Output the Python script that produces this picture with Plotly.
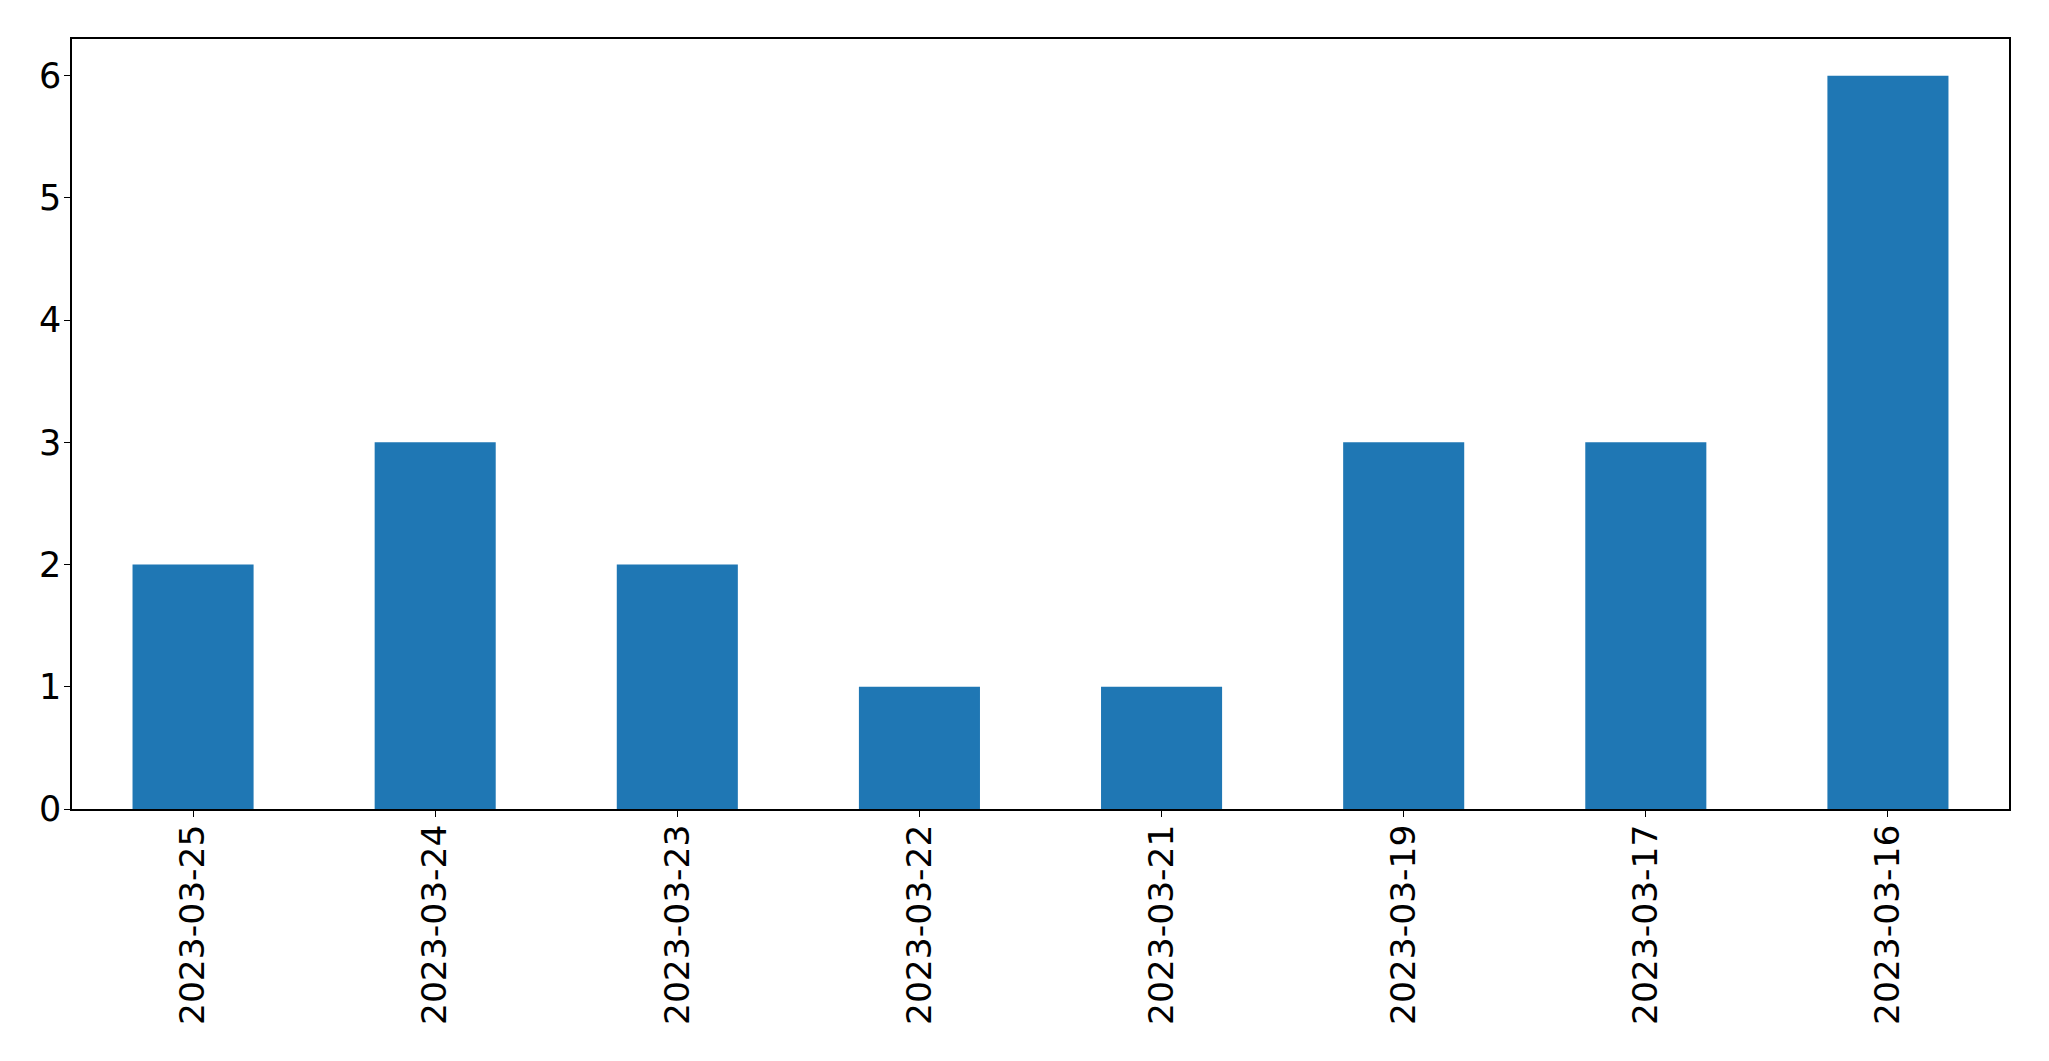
import plotly.graph_objects as go

dates = ["2023-03-25", "2023-03-24", "2023-03-23", "2023-03-22",
         "2023-03-21", "2023-03-19", "2023-03-17", "2023-03-16"]
counts = [2, 3, 2, 1, 1, 3, 3, 6]
y_ticks = [0, 1, 2, 3, 4, 5, 6]

fig = go.Figure(go.Bar(x=dates, y=counts, marker_color="#1f77b4",
                       marker_line_width=0, width=0.5))

# page body has an 8px default margin, so the figure is offset by 8px
fig.update_layout(
    width=2041, height=1053,
    margin=dict(l=64, r=40, t=31, b=252, autoexpand=False),
    paper_bgcolor="white", plot_bgcolor="white",
    font=dict(family="DejaVu Sans", size=34.5, color="black"),
    showlegend=False,
    bargap=0.5,
)
fig.update_xaxes(type="category", range=[-0.5, 7.5], tickangle=-90,
                 showline=True, linecolor="black", linewidth=1.5, mirror=True,
                 ticks="outside", ticklen=6, tickcolor="black", showgrid=False,
                 automargin=False, tickfont=dict(size=34.5),
                 ticklabelstandoff=-6)
fig.update_yaxes(range=[0, 6.3], tickvals=y_ticks,
                 showline=True, linecolor="black", linewidth=1.5, mirror=True,
                 ticks="outside", ticklen=6, tickcolor="black", showgrid=False,
                 zeroline=False, automargin=False, tickfont=dict(size=35),
                 ticklabelstandoff=-4)

fig.write_html("out.html")
